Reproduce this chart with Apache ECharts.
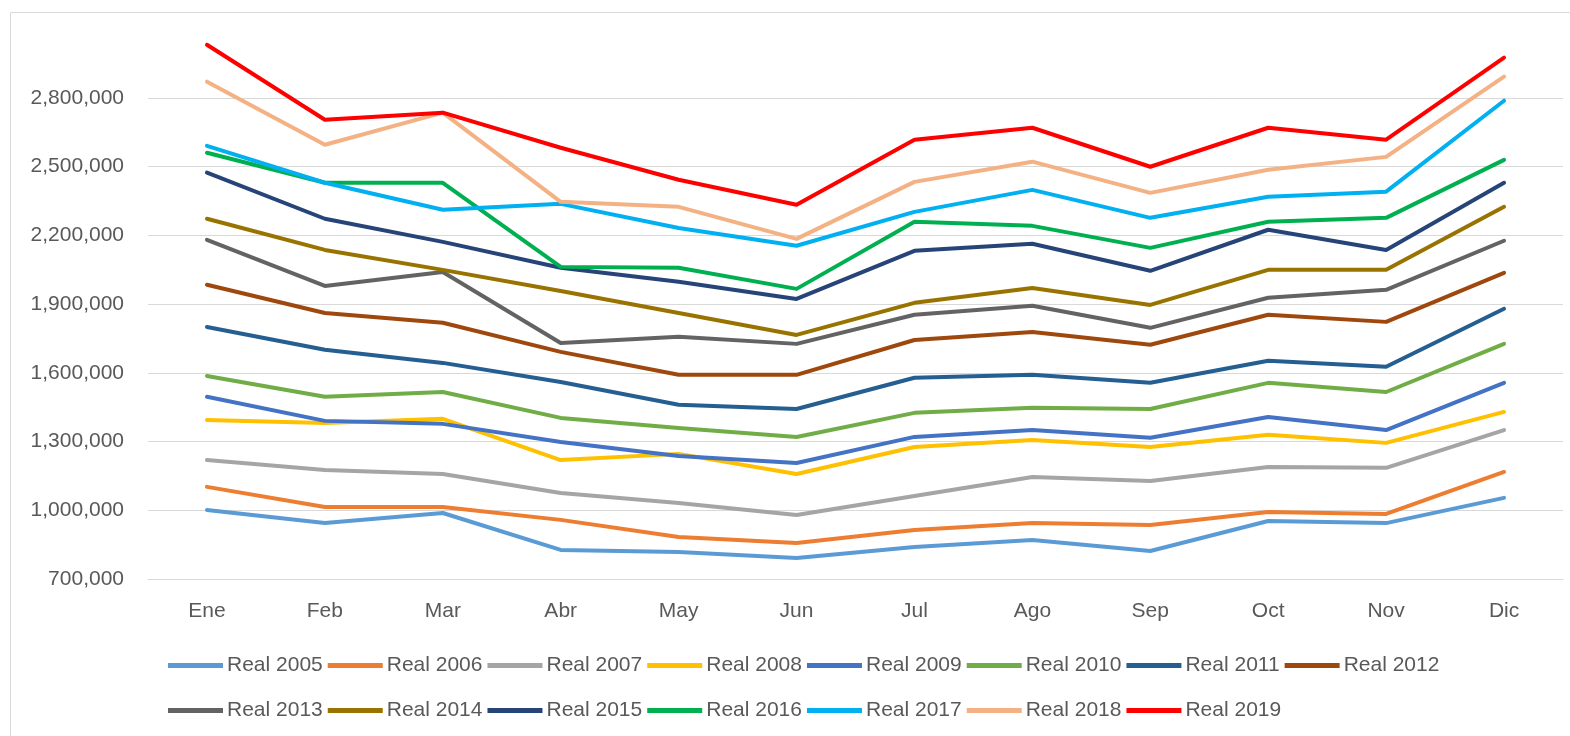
<!DOCTYPE html>
<html>
<head>
<meta charset="utf-8">
<script src="https://cdn.jsdelivr.net/npm/echarts@6/dist/echarts.min.js"></script>
<style>
html,body{margin:0;padding:0;background:#fff;}
#chart{width:1570px;height:736px;}
</style>
</head>
<body>
<div id="chart"></div>
<script>
const months = ['Ene','Feb','Mar','Abr','May','Jun','Jul','Ago','Sep','Oct','Nov','Dic'];
const yTicks = [700000, 1000000, 1300000, 1600000, 1900000, 2200000, 2500000, 2800000];

const real2005 = [1001000, 944000, 988000, 827000, 818000, 792000, 840000, 870000, 822000, 953000, 944000, 1054000];
const real2006 = [1102000, 1014000, 1014000, 958000, 883000, 857000, 914000, 944000, 936000, 992000, 984000, 1167000];
const real2007 = [1219000, 1176000, 1158000, 1075000, 1032000, 979000, 1062000, 1145000, 1128000, 1189000, 1185000, 1350000];
const real2008 = [1394000, 1381000, 1399000, 1219000, 1246000, 1158000, 1276000, 1307000, 1276000, 1329000, 1294000, 1429000];
const real2009 = [1495000, 1390000, 1377000, 1298000, 1237000, 1206000, 1320000, 1350000, 1316000, 1407000, 1350000, 1556000];
const real2010 = [1586000, 1495000, 1516000, 1403000, 1359000, 1320000, 1425000, 1447000, 1442000, 1556000, 1516000, 1726000];
const real2011 = [1800000, 1700000, 1643000, 1560000, 1460000, 1442000, 1578000, 1591000, 1556000, 1652000, 1626000, 1879000];
const real2012 = [1984000, 1861000, 1818000, 1691000, 1591000, 1591000, 1743000, 1778000, 1722000, 1853000, 1822000, 2036000];
const real2013 = [2180000, 1979000, 2040000, 1730000, 1757000, 1726000, 1853000, 1892000, 1796000, 1927000, 1962000, 2176000];
const real2014 = [2272000, 2136000, 2049000, 1957000, 1861000, 1765000, 1905000, 1970000, 1896000, 2049000, 2049000, 2324000];
const real2015 = [2473000, 2272000, 2171000, 2058000, 1997000, 1922000, 2132000, 2163000, 2045000, 2224000, 2136000, 2429000];
const real2016 = [2560000, 2429000, 2429000, 2062000, 2058000, 1966000, 2259000, 2241000, 2145000, 2259000, 2276000, 2529000];
const real2017 = [2590000, 2429000, 2311000, 2337000, 2232000, 2154000, 2302000, 2398000, 2276000, 2368000, 2390000, 2787000];
const real2018 = [2870000, 2595000, 2735000, 2346000, 2324000, 2184000, 2433000, 2521000, 2385000, 2486000, 2542000, 2892000];
const real2019 = [3031000, 2704000, 2735000, 2582000, 2442000, 2333000, 2617000, 2669000, 2499000, 2669000, 2617000, 2975000];

const seriesNames = ['Real 2005','Real 2006','Real 2007','Real 2008','Real 2009','Real 2010','Real 2011','Real 2012',
                     'Real 2013','Real 2014','Real 2015','Real 2016','Real 2017','Real 2018','Real 2019'];
const seriesData = [real2005, real2006, real2007, real2008, real2009, real2010, real2011, real2012,
                    real2013, real2014, real2015, real2016, real2017, real2018, real2019];
const colors = ['#5B9BD5','#ED7D31','#A5A5A5','#FFC000','#4472C4','#70AD47','#255E91','#9E480E',
                '#636363','#997300','#264478','#00B050','#00B0F0','#F4B183','#FF0000'];

const FONT = '"Liberation Sans", Arial, sans-serif';
const chart = echarts.init(document.getElementById('chart'), null, {renderer: 'canvas'});

const legendCommon = {
  orient: 'horizontal',
  icon: 'rect',
  itemWidth: 55,
  itemHeight: 5,
  itemGap: 5,
  textStyle: {fontFamily: FONT, fontSize: 21, color: '#595959', padding: [0, 0, 0, -1]},
  selectedMode: false
};

const minV = yTicks[0];
const intervalV = yTicks[1] - yTicks[0];
const maxV = 3100000;

chart.setOption({
  animation: false,
  color: colors,
  graphic: [{
    type: 'rect',
    shape: {x: 10.5, y: 12.5, width: 1600, height: 800},
    style: {fill: 'none', stroke: '#d9d9d9', lineWidth: 1},
    silent: true, z: -10
  }],
  grid: {left: 148, right: 7, top: 29, bottom: 157, containLabel: false},
  legend: [
    Object.assign({}, legendCommon, {left: 163, top: 650, data: seriesNames.slice(0, 8)}),
    Object.assign({}, legendCommon, {left: 163, top: 695, data: seriesNames.slice(8)})
  ],
  xAxis: {
    type: 'category',
    data: months,
    boundaryGap: true,
    axisLine: {show: true, lineStyle: {color: '#d9d9d9', width: 1}},
    axisTick: {show: false},
    axisLabel: {fontFamily: FONT, fontSize: 21, color: '#595959', margin: 22}
  },
  yAxis: {
    type: 'value',
    min: minV,
    max: maxV,
    interval: intervalV,
    axisLine: {show: false},
    axisTick: {show: false},
    axisLabel: {
      fontFamily: FONT, fontSize: 21, color: '#595959', margin: 24,
      showMaxLabel: false,
      formatter: v => v.toLocaleString('en-US')
    },
    splitLine: {
      show: true,
      lineStyle: {
        color: ['#d9d9d9','#d9d9d9','#d9d9d9','#d9d9d9','#d9d9d9','#d9d9d9','#d9d9d9','#d9d9d9','rgba(0,0,0,0)'],
        width: 1
      }
    }
  },
  series: seriesNames.map((name, i) => ({
    name: name,
    type: 'line',
    data: seriesData[i],
    showSymbol: false,
    symbol: 'none',
    lineStyle: {width: 4, color: colors[i], cap: 'round', join: 'round'},
    itemStyle: {color: colors[i]},
    emphasis: {disabled: true}
  }))
});
</script>
</body>
</html>
